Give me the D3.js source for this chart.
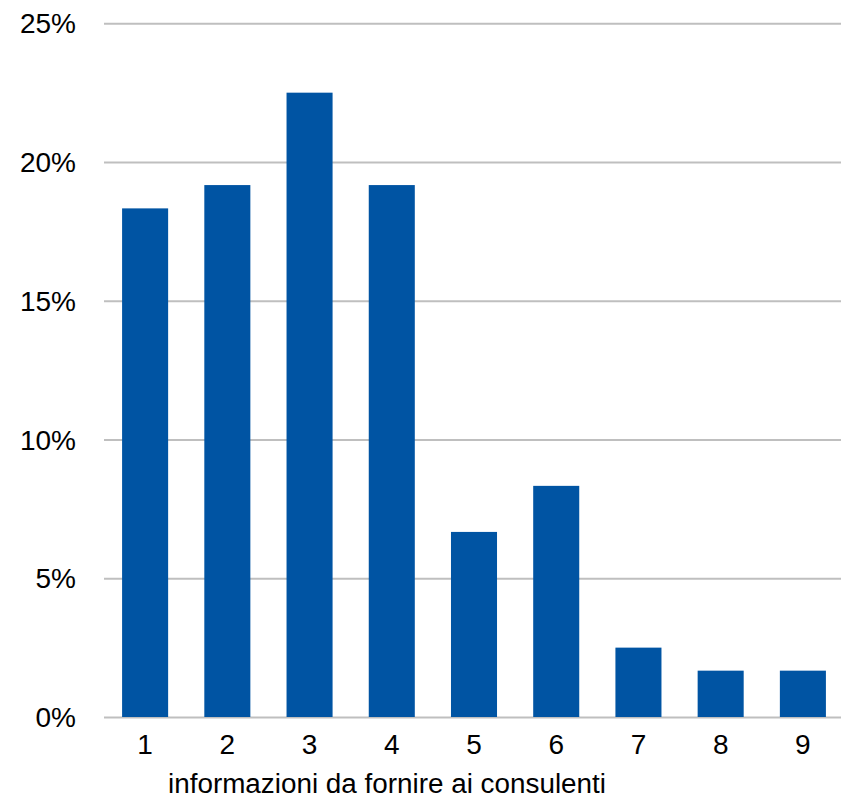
<!DOCTYPE html>
<html>
<head>
<meta charset="utf-8">
<script src="https://cdn.jsdelivr.net/npm/d3@7"></script>
<style>
  body { margin: 0; background: #fff; }
  svg text { font-family: "Liberation Sans", Arial, sans-serif; fill: #000; }
</style>
</head>
<body>
<div id="chart"></div>
<script>
// data: share of answers (n = 120)
const categories = ['1', '2', '3', '4', '5', '6', '7', '8', '9']
const shares = [0.1833, 0.1917, 0.225, 0.1917, 0.0667, 0.0833, 0.025, 0.0167, 0.0167]
const yTicks = [0, 0.05, 0.10, 0.15, 0.20, 0.25]
const xTitle = 'informazioni da fornire ai consulenti'

const W = 841, H = 799
const PLOT = { LEFT: 104, RIGHT: 844, TOP: 23.3, BOTTOM: 717 }

const svg = d3.select('#chart')
	.append('svg')
	.attr('width', W)
	.attr('height', H)

const x = d3.scaleBand()
	.domain(categories)
	.range([PLOT.LEFT, PLOT.RIGHT])
	.paddingInner(0.44)
	.paddingOuter(0.22)

const y = d3.scaleLinear()
	.domain([0, 0.25])
	.range([PLOT.BOTTOM, PLOT.TOP])

// gridlines + y labels
const yAxis = d3.axisLeft(y)
	.tickValues(yTicks)
	.tickSize(-(W - PLOT.LEFT))
	.tickPadding(28)
	.tickFormat(d3.format('.0%'))

svg.append('g')
	.attr('transform', `translate(${PLOT.LEFT}, 0)`)
	.call(yAxis)
	.call(g => g.select('.domain').remove())
	.call(g => g.selectAll('line').attr('stroke', '#bfbfbf').attr('stroke-width', 2))
	.call(g => g.selectAll('text')
		.attr('font-size', 28)
		.attr('dy', '0.34em'))

// bars
svg.append('g')
	.selectAll('rect')
	.data(shares)
	.join('rect')
	.attr('x', (d, i) => x(categories[i]))
	.attr('width', x.bandwidth())
	.attr('y', d => y(d))
	.attr('height', d => y(0) - y(d))
	.attr('fill', '#0054a3')

// x labels
const xAxis = d3.axisBottom(x).tickSize(0).tickPadding(17)
svg.append('g')
	.attr('transform', `translate(0, ${PLOT.BOTTOM})`)
	.call(xAxis)
	.call(g => g.select('.domain').remove())
	.call(g => g.selectAll('text').attr('font-size', 28))

svg.append('text')
	.attr('x', 168)
	.attr('y', 793)
	.attr('font-size', 27)
	.attr('textLength', 438)
	.attr('lengthAdjust', 'spacingAndGlyphs')
	.text(xTitle)
</script>
</body>
</html>
